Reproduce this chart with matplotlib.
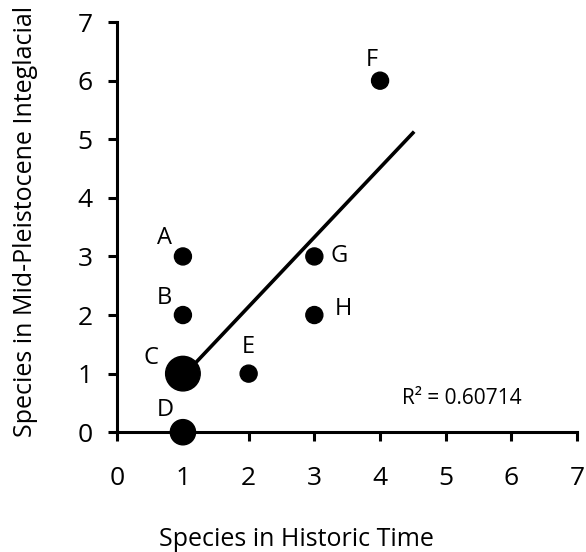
import numpy as np
import matplotlib
matplotlib.use("Agg")
import matplotlib.pyplot as plt

plt.rcParams['font.family'] = ['Open Sans', 'DejaVu Sans']

labels = ["A", "B", "C", "D", "E", "F", "G", "H"]
historic = [1, 1, 1, 1, 2, 4, 3, 3]
interglacial = [3, 2, 1, 0, 1, 6, 3, 2]
weights = [1, 1, 3, 2, 1, 1, 1, 1]
marker_sizes = [150, 150, 620, 330, 150, 150, 150, 150]
label_offsets = [(-13, 13), (-13, 12), (-23, 11), (-13, 16), (0, 19), (-6, 15), (18, 0), (21, 4)]
r2_text = "R² = 0.60714"
x_ticks = [0, 1, 2, 3, 4, 5, 6, 7]
y_ticks = [0, 1, 2, 3, 4, 5, 6, 7]

fig = plt.figure(figsize=(5.86, 5.52), dpi=100)
ax = fig.add_axes([0.2, 0.217, 0.785, 0.743])

ax.scatter(historic, interglacial, s=marker_sizes, color="black", zorder=3, clip_on=False)

slope, intercept = np.polyfit(historic, interglacial, 1, w=np.sqrt(weights))
xl = np.array([1, 4.5])
ax.plot(xl, slope * xl + intercept, color="black", lw=2.6, zorder=2)

for lab, x, y, off in zip(labels, historic, interglacial, label_offsets):
    ax.annotate(lab, (x, y), xytext=off, textcoords="offset points",
                ha="center", va="center", fontsize=17)

ax.text(5.25, 0.58, r2_text, fontsize=15, ha="center", va="center")

ax.set_xlim(0, 7)
ax.set_ylim(0, 7)
ax.set_xticks(x_ticks)
ax.set_yticks(y_ticks)
for s in ["top", "right"]:
    ax.spines[s].set_visible(False)
for s in ["left", "bottom"]:
    ax.spines[s].set_linewidth(2.2)
ax.tick_params(axis="both", direction="out", length=6.5, width=2.2, labelsize=19)
ax.tick_params(axis="x", pad=18)
ax.tick_params(axis="y", pad=11)
ax.set_xlabel("Species in Historic Time", fontsize=18)
ax.set_ylabel("Species in Mid-Pleistocene Integlacial", fontsize=18)
ax.xaxis.set_label_coords(0.39, -0.232)
ax.yaxis.set_label_coords(-0.172, 0.515)

fig.savefig("out.png", dpi=100)
